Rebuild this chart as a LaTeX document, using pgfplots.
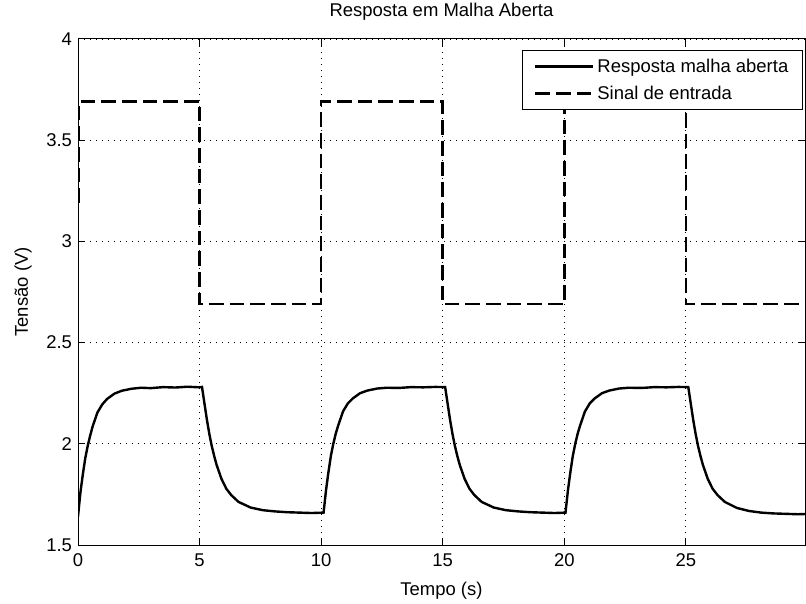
\documentclass[border=0pt]{standalone}
\usepackage{fontspec}
\setmainfont{Liberation Sans}
\usepackage{pgfplots}
\pgfplotsset{compat=1.18}
\begin{document}
\begin{tikzpicture}[font=\fontsize{13.9}{16}\selectfont]
\begin{axis}[
  scale only axis, width=545.25bp, height=379.5bp,
  xmin=0, xmax=29.9, ymin=1.5, ymax=4,
  xtick={0,5,10,15,20,25}, ytick={1.5,2,2.5,3,3.5,4},
  /pgf/number format/assume math mode=true,
  tick align=inside, major tick length=5bp,
  tick style={black, line width=0.75bp},
  axis line style={black, line width=0.75bp},
  grid=major,
  grid style={black, line width=0.7bp, dash pattern=on 0.75bp off 3.75bp},
  xticklabel style={anchor=north, yshift=-3bp},
  yticklabel style={anchor=east, xshift=-1bp},
  title={Resposta em Malha Aberta},
  title style={at={(axis description cs:0.5,1)}, anchor=base, yshift=11bp, inner sep=0pt},
  xlabel={Tempo (s)},
  xlabel style={at={(axis description cs:0.5,0)}, anchor=base, yshift=-37.5bp, inner sep=0pt},
  ylabel={Tensão (V)},
  ylabel style={at={(axis description cs:-0.0688,0.5)}, anchor=base, inner sep=0pt},
  legend style={at={(rel axis cs:0.997,0.978)}, anchor=north east, draw=black, line width=0.75bp,
    fill=white, inner xsep=8.5bp, inner ysep=4bp, row sep=5bp, font=\fontsize{13.9}{16}\selectfont},
  legend cell align=left,
  legend image code/.code={\draw[#1] (0bp,0bp) -- (43.5bp,0bp);},
]
\coordinate (bbsw) at (rel axis cs:0,0);
\coordinate (bbne) at (rel axis cs:1,1);
\addplot[black, line width=1.8bp] coordinates {
(0,1.64) (0.1,1.76) (0.2,1.85) (0.3,1.93) (0.4,1.99) (0.5,2.04) (0.6,2.085) (0.8,2.155)
(1.0,2.195) (1.2,2.222) (1.5,2.248) (1.8,2.262) (2.2,2.272) (2.6,2.277) (3.0,2.275)
(3.5,2.28) (4.0,2.278) (4.5,2.282) (5.0,2.279) (5.1,2.281)
(5.2,2.20) (5.3,2.12) (5.4,2.05) (5.5,1.99) (5.6,1.94) (5.7,1.896) (5.9,1.827) (6.1,1.778)
(6.3,1.747) (6.6,1.713) (7.1,1.685) (7.6,1.672) (8.1,1.666) (8.6,1.662) (9.1,1.66) (9.6,1.658) (10.1,1.66)
(10.2,1.77) (10.3,1.86) (10.4,1.94) (10.5,2.00) (10.6,2.05) (10.7,2.09) (10.9,2.16) (11.1,2.20)
(11.3,2.224) (11.6,2.25) (11.9,2.263) (12.3,2.273) (12.7,2.277) (13.2,2.276) (13.7,2.28)
(14.2,2.279) (14.7,2.281) (15.1,2.28)
(15.2,2.20) (15.3,2.12) (15.4,2.05) (15.5,1.99) (15.6,1.94) (15.7,1.896) (15.9,1.827) (16.1,1.778)
(16.3,1.747) (16.6,1.713) (17.1,1.685) (17.6,1.672) (18.1,1.666) (18.6,1.662) (19.1,1.66) (19.6,1.658) (20.05,1.66)
(20.15,1.77) (20.25,1.86) (20.35,1.94) (20.45,2.00) (20.55,2.05) (20.65,2.09) (20.85,2.16) (21.05,2.20)
(21.25,2.224) (21.55,2.25) (21.85,2.263) (22.25,2.273) (22.65,2.277) (23.2,2.276) (23.7,2.28)
(24.2,2.279) (24.7,2.281) (25.1,2.28)
(25.2,2.20) (25.3,2.12) (25.4,2.05) (25.5,1.99) (25.6,1.94) (25.7,1.896) (25.9,1.827) (26.1,1.778)
(26.3,1.747) (26.6,1.713) (27.1,1.683) (27.6,1.668) (28.1,1.66) (28.6,1.656) (29.1,1.654) (29.6,1.652) (29.9,1.653)
};
\addlegendentry{Resposta malha aberta}
\addplot[black, line width=1.9bp, dash pattern=on 11bp off 4.5bp] coordinates {
(0.02,3.19) (0.02,3.69) (5,3.69) (5,2.69) (10,2.69) (10,3.69) (15,3.69) (15,2.69)
(20,2.69) (20,3.69) (25,3.69) (25,2.69) (29.9,2.69)
};
\addlegendentry{Sinal de entrada}
\end{axis}
\path (bbsw) ++(-58.5bp,-44.25bp) coordinate (a) (bbne) ++(0.75bp,29.25bp) coordinate (b);
\path (a) rectangle (b);
\end{tikzpicture}
\end{document}
